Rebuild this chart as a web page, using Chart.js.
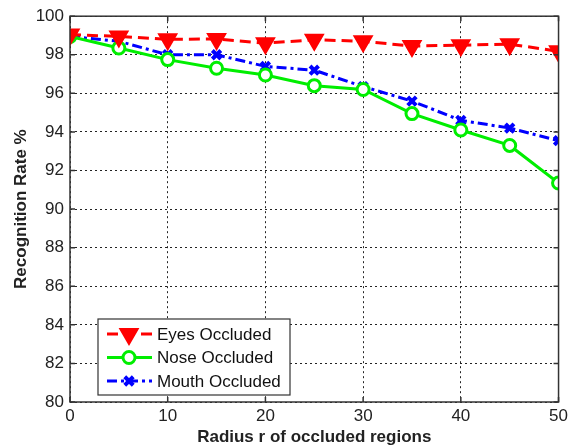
<!DOCTYPE html>
<html>
<head>
<meta charset="utf-8">
<script src="https://cdn.jsdelivr.net/npm/chart.js@4.4.1/dist/chart.umd.min.js"></script>
<style>
  html, body { margin: 0; padding: 0; background: #fff; }
  #wrap { width: 572px; height: 448px; }
</style>
</head>
<body>
<div id="wrap"><canvas id="occ"></canvas></div>
<script>
// radius of occluded region vs recognition rate
const radius = [0, 5, 10, 15, 20, 25, 30, 35, 40, 45, 50];
const eyesRate  = [99.05, 98.95, 98.8, 98.82, 98.6, 98.78, 98.7, 98.45, 98.5, 98.55, 98.18];
const noseRate  = [98.95, 98.35, 97.75, 97.3, 96.95, 96.4, 96.2, 94.95, 94.1, 93.3, 91.35];
const mouthRate = [98.95, 98.7, 98.0, 98.0, 97.4, 97.2, 96.35, 95.6, 94.6, 94.2, 93.55];
const seriesNames = ['Eyes Occluded', 'Nose Occluded', 'Mouth Occluded'];
const xTicks = [0, 10, 20, 30, 40, 50];
const yTicks = [80, 82, 84, 86, 88, 90, 92, 94, 96, 98, 100];

const FONT = 'Arial, "Liberation Sans", sans-serif';

function pts(ys) {
  return radius.map((x, i) => ({ x: x, y: ys[i] }));
}

// box around the plot, inward tick marks, and the legend in the lower left
const framePlugin = {
  id: 'frame',
  afterDraw(chart) {
    const { ctx, chartArea: a, scales } = chart;
    ctx.save();
    ctx.strokeStyle = '#333';
    ctx.lineWidth = 1.5;
    ctx.setLineDash([]);
    ctx.beginPath();
    xTicks.forEach(v => {
      const x = scales.x.getPixelForValue(v);
      ctx.moveTo(x, a.bottom); ctx.lineTo(x, a.bottom - 5);
      ctx.moveTo(x, a.top); ctx.lineTo(x, a.top + 5);
    });
    yTicks.forEach(v => {
      const y = scales.y.getPixelForValue(v);
      ctx.moveTo(a.left, y); ctx.lineTo(a.left + 5, y);
      ctx.moveTo(a.right, y); ctx.lineTo(a.right - 5, y);
    });
    ctx.stroke();
    ctx.strokeRect(a.left, a.top, a.right - a.left, a.bottom - a.top);

    // legend
    const lx = 98, ly = 319, lw = 192, lh = 76;
    ctx.fillStyle = '#fff';
    ctx.fillRect(lx, ly, lw, lh);
    ctx.strokeStyle = '#333';
    ctx.lineWidth = 1.2;
    ctx.strokeRect(lx, ly, lw, lh);
    chart.data.datasets.forEach((ds, i) => {
      const y = ly + 15 + i * 23.5;
      ctx.strokeStyle = ds.borderColor;
      ctx.lineWidth = ds.borderWidth;
      ctx.setLineDash(ds.borderDash || []);
      ctx.beginPath();
      ctx.moveTo(lx + 9, y);
      ctx.lineTo(lx + 54, y);
      ctx.stroke();
      ctx.setLineDash([]);
      ctx.fillStyle = ds.pointBackgroundColor;
      ctx.strokeStyle = ds.pointBorderColor;
      ctx.lineWidth = ds.pointBorderWidth;
      Chart.helpers.drawPoint(ctx, {
        pointStyle: ds.pointStyle,
        rotation: ds.pointRotation || 0,
        radius: ds.pointRadius,
        borderWidth: ds.pointBorderWidth
      }, lx + 31, y);
      ctx.fillStyle = '#111';
      ctx.font = '17px ' + FONT;
      ctx.textBaseline = 'middle';
      ctx.textAlign = 'left';
      ctx.fillText(ds.label, lx + 59, y + 1);
    });
    ctx.restore();
  }
};

new Chart(document.getElementById('occ'), {
  type: 'line',
  data: {
    datasets: [{
      label: seriesNames[0],
      data: pts(eyesRate),
      borderColor: '#ff0000',
      borderWidth: 3,
      borderDash: [11, 6],
      pointStyle: 'triangle',
      pointRotation: 180,
      pointRadius: 9,
      pointBorderWidth: 3,
      pointBorderColor: '#ff0000',
      pointBackgroundColor: '#ff0000'
    }, {
      label: seriesNames[1],
      data: pts(noseRate),
      borderColor: '#00ee00',
      borderWidth: 3,
      pointStyle: 'circle',
      pointRadius: 6,
      pointBorderWidth: 3,
      pointBorderColor: '#00ee00',
      pointBackgroundColor: '#ffffff'
    }, {
      label: seriesNames[2],
      data: pts(mouthRate),
      borderColor: '#0000ff',
      borderWidth: 3,
      borderDash: [10, 4, 3, 4],
      pointStyle: 'crossRot',
      pointRadius: 6,
      pointBorderWidth: 4,
      pointBorderColor: '#0000ff',
      pointBackgroundColor: '#0000ff'
    }]
  },
  options: {
    responsive: true,
    maintainAspectRatio: false,
    animation: false,
    layout: { padding: { top: 15, right: 11, left: 0, bottom: 0 } },
    plugins: {
      legend: { display: false },
      tooltip: { enabled: false }
    },
    elements: { line: { tension: 0 } },
    scales: {
      x: {
        type: 'linear',
        min: 0,
        max: 50,
        afterBuildTicks: s => { s.ticks = xTicks.map(v => ({ value: v })); },
        afterFit: s => { s.height = 46; },
        border: { display: false, dash: [2, 3] },
        grid: { color: '#222', lineWidth: 1, drawTicks: false },
        ticks: { color: '#222', padding: 4, font: { family: FONT, size: 17 } },
        title: {
          display: true,
          text: 'Radius r of occluded regions',
          color: '#222',
          padding: { top: 0, bottom: 0 },
          font: { family: FONT, size: 17, weight: 'bold' }
        }
      },
      y: {
        min: 80,
        max: 100,
        afterBuildTicks: s => { s.ticks = yTicks.map(v => ({ value: v })); },
        afterFit: s => { s.width = 70; },
        border: { display: false, dash: [2, 3] },
        grid: { color: '#222', lineWidth: 1, drawTicks: false },
        ticks: { color: '#222', padding: 6, font: { family: FONT, size: 17 } },
        title: {
          display: true,
          text: 'Recognition Rate %',
          color: '#222',
          padding: { top: 11, bottom: 0 },
          font: { family: FONT, size: 17, weight: 'bold' }
        }
      }
    }
  },
  plugins: [framePlugin]
});
</script>
</body>
</html>
